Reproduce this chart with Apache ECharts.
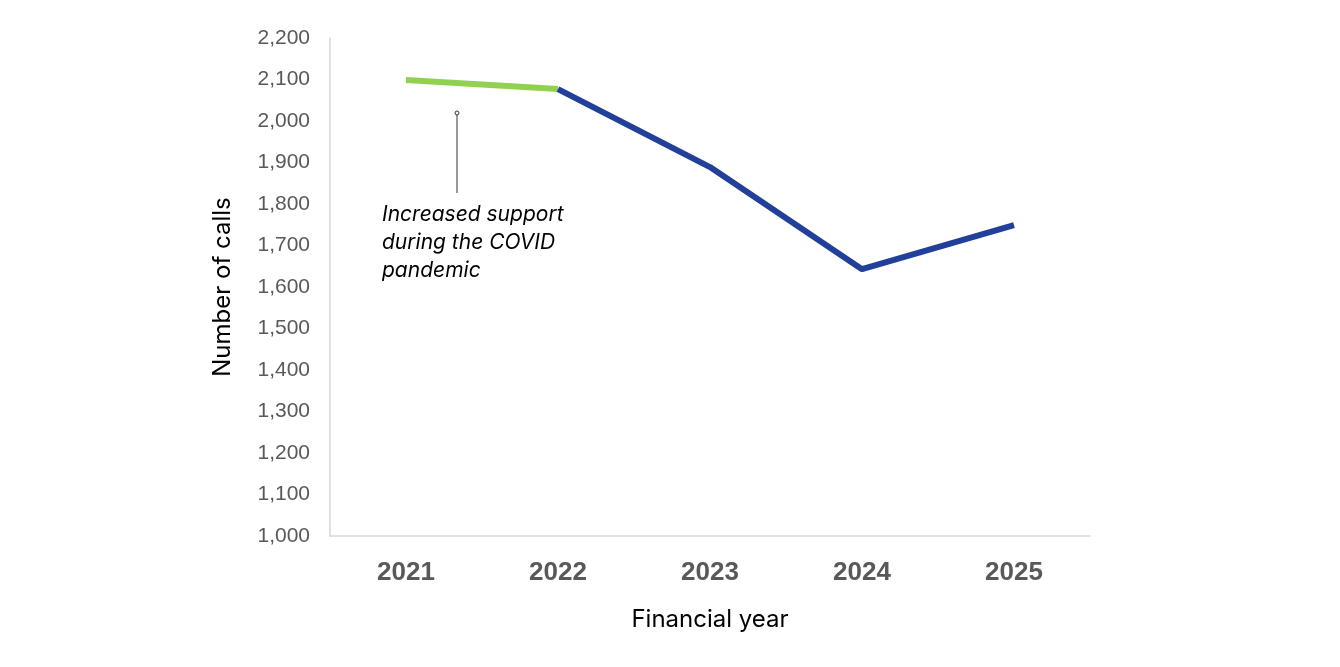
<!DOCTYPE html>
<html>
<head>
<meta charset="utf-8">
<script src="https://cdn.jsdelivr.net/npm/echarts@6/dist/echarts.min.js"></script>
<style>html,body{margin:0;padding:0;background:#fff}#chart{width:1340px;height:667px}</style>
</head>
<body>
<div id="chart"></div>
<script>
// financial years
const years = ['2021', '2022', '2023', '2024', '2025'];
// COVID period (green)
const covidCalls = [2099, 2077, null, null, null];
// after COVID (blue)
const laterCalls = [null, 2077, 1889, 1643, 1749];
const note = 'Increased support\nduring the COVID\npandemic';

const chart = echarts.init(document.getElementById('chart'));
chart.setOption({
	animation: false,
	grid: { left: 330, right: 250, top: 38, bottom: 131 },
	xAxis: {
		type: 'category',
		data: years,
		name: 'Financial year',
		nameLocation: 'middle',
		nameGap: 72,
		nameTextStyle: { fontSize: 24, color: '#000', fontFamily: 'Inter' },
		axisLine: { lineStyle: { color: '#d9d9d9', width: 1.5 } },
		axisTick: { show: false },
		axisLabel: { fontSize: 26, fontWeight: 'bold', color: '#595959', margin: 24, fontFamily: 'Liberation Sans' }
	},
	yAxis: {
		type: 'value',
		min: 1000,
		max: 2200,
		interval: 100,
		name: 'Number of calls',
		nameLocation: 'middle',
		nameGap: 95,
		nameTextStyle: { fontSize: 24, color: '#000', fontFamily: 'Inter' },
		axisLine: { show: true, lineStyle: { color: '#d9d9d9', width: 1.5 } },
		axisTick: { show: false },
		splitLine: { show: false },
		axisLabel: { fontSize: 21, color: '#595959', margin: 20, fontFamily: 'Liberation Sans' }
	},
	series: [
		{
			type: 'line',
			data: covidCalls,
			symbol: 'none',
			lineStyle: { color: '#92d050', width: 6 }
		},
		{
			type: 'line',
			data: laterCalls,
			symbol: 'none',
			lineStyle: { color: '#22409a', width: 6 }
		}
	],
	graphic: [
		{ type: 'line', shape: { x1: 457, y1: 115, x2: 457, y2: 193 }, style: { stroke: '#333', lineWidth: 1 } },
		{ type: 'circle', shape: { cx: 457, cy: 113, r: 2 }, style: { stroke: '#333', fill: '#fff', lineWidth: 1 } },
		{
			type: 'text', left: 382, top: 201,
			style: { text: note, font: 'italic 21px Inter', fill: '#000', lineHeight: 28 }
		}
	]
});
</script>
</body>
</html>
